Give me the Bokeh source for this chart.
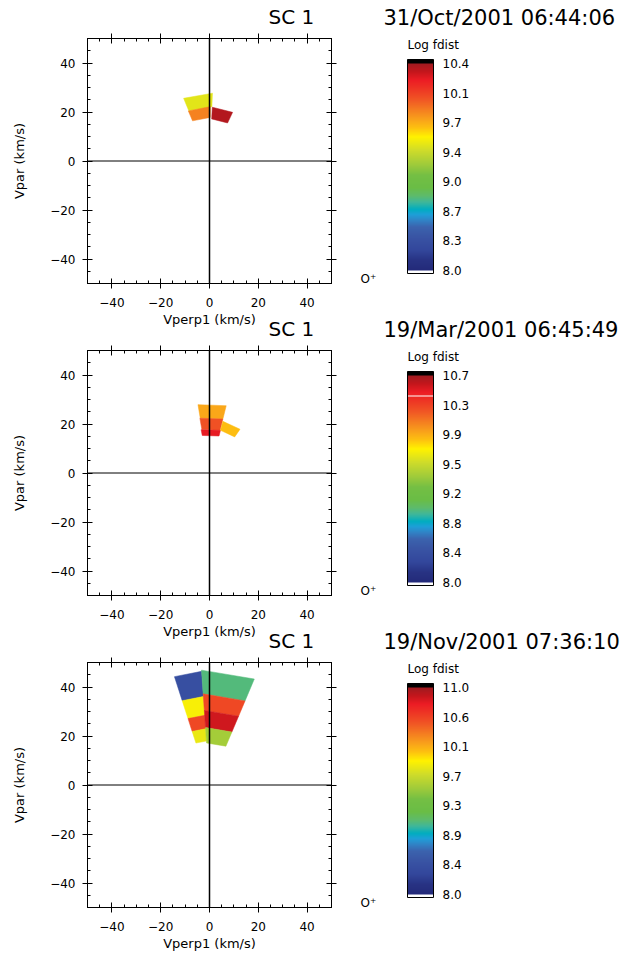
import numpy as np
from bokeh.plotting import figure
from bokeh.models import (LinearAxis, SingleIntervalTicker, Span, Label, ColorBar,
                          LinearColorMapper, FixedTicker, PrintfTickFormatter,
                          CustomJSTickFormatter, ColumnDataSource)
from bokeh.layouts import column, row
from bokeh.embed import file_html
from bokeh.resources import INLINE

# ---------------- data ----------------
spacecraft = "SC 1"
species = "O\u207a"
dates = ["31/Oct/2001 06:44:06", "19/Mar/2001 06:45:49", "19/Nov/2001 07:36:10"]
cbar_title = "Log fdist"
cbar_min = 8.0
cbar_max = [10.4, 10.7, 11.0]
# white marker line that appears inside the colour bar (panel index -> log f), else None
cbar_white_line = [None, 10.433, None]
x_label = "Vperp1 (km/s)"
y_label = "Vpar (km/s)"

# velocity-space bins: speed range (km/s), angle range from +Vpar (deg), log f
p1_v_lo = [22.2, 17.8, 17.2]
p1_v_hi = [27.7, 22.2, 22.0]
p1_ang_lo = [-22.5, -23.0, 3.0]
p1_ang_hi = [2.5, 1.0, 25.5]
p1_logf = [9.45, 9.85, 10.35]

p2_v_lo = [22.7, 18.0, 15.6, 18.0]
p2_v_hi = [28.3, 22.7, 18.0, 21.8]
p2_ang_lo = [-9.6, -10.0, -11.0, 14.5]
p2_ang_hi = [14.0, 14.0, 14.5, 35.0]
p2_logf = [9.95, 10.25, 10.5, 9.87]

p3_v_lo = [36.2, 28.5, 23.0, 18.0, 37.3, 30.5, 23.5, 17.2]
p3_v_hi = [46.5, 36.2, 28.5, 23.0, 47.0, 37.3, 30.5, 23.5]
p3_ang_lo = [-18.0, -18.0, -18.0, -18.0, -4.0, -4.0, -4.0, -4.0]
p3_ang_hi = [-4.0, -4.0, -4.0, -4.0, 23.0, 23.0, 23.0, 23.0]
p3_logf = [8.42, 9.9, 10.55, 9.85, 9.05, 10.55, 10.85, 9.56]

panels = [
    (p1_v_lo, p1_v_hi, p1_ang_lo, p1_ang_hi, p1_logf),
    (p2_v_lo, p2_v_hi, p2_ang_lo, p2_ang_hi, p2_logf),
    (p3_v_lo, p3_v_hi, p3_ang_lo, p3_ang_hi, p3_logf),
]

# ---------------- colour table (style) ----------------
ramp_stops = [
    (0.00, "#232a7a"), (0.05, "#283384"), (0.10, "#33479c"), (0.16, "#3954a4"),
    (0.21, "#3b63ae"), (0.245, "#2f86c8"), (0.27, "#1e9fd8"), (0.295, "#00adc0"),
    (0.33, "#3fb79a"), (0.36, "#5dbb6c"), (0.40, "#6abd45"), (0.46, "#74bf44"),
    (0.52, "#a5cd39"), (0.58, "#cfdc2a"), (0.645, "#fff200"), (0.69, "#fdc010"),
    (0.73, "#f9a11b"), (0.77, "#f58220"), (0.82, "#f15a24"), (0.87, "#ee3a24"),
    (0.92, "#ec1c24"), (0.96, "#c4161c"), (1.00, "#9e1b20"),
]
N_RAMP, N_LO, N_HI = 207, 3, 4


def hex2rgb(h):
    return [int(h[i:i + 2], 16) for i in (1, 3, 5)]


st = np.array([s[0] for s in ramp_stops])
rgb = np.array([hex2rgb(s[1]) for s in ramp_stops], dtype=float)
tt = (np.arange(N_RAMP) + 0.5) / N_RAMP
ramp = []
for t in tt:
    c = [int(round(np.interp(t, st, rgb[:, k]))) for k in range(3)]
    ramp.append("#%02x%02x%02x" % tuple(c))
base_palette = ["#ffffff"] * N_LO + ramp + ["#000000"] * N_HI

FONT = "DejaVu Sans"
HEAD_H = 33
H = 330 - HEAD_H
W_MAIN, W_CB = 355, 275
MB_L, MB_R, MB_T, MB_B = 87, 24, 5, 47

minus_fmt = CustomJSTickFormatter(code="return tick < 0 ? '\\u2212' + Math.abs(tick) : String(tick)")
blank_fmt = CustomJSTickFormatter(code="return ''")


def style_axis(ax, labels=True):
    ax.ticker = SingleIntervalTicker(interval=20, num_minor_ticks=4)
    ax.major_tick_in = 5
    ax.major_tick_out = 5
    ax.minor_tick_in = 3
    ax.minor_tick_out = 0
    ax.axis_line_color = "black"
    ax.major_tick_line_color = "black"
    ax.minor_tick_line_color = "black"
    ax.major_label_text_font = FONT
    ax.major_label_text_color = "black"
    ax.axis_label_text_font = FONT
    ax.axis_label_text_font_size = "13px"
    ax.axis_label_text_font_style = "normal"
    ax.axis_label_text_color = "black"
    if labels:
        ax.formatter = minus_fmt
        ax.major_label_text_font_size = "12px"
    else:
        ax.formatter = blank_fmt
        ax.major_label_text_font_size = "0px"
        ax.major_label_standoff = 0


def blank_fig(width, height, **kw):
    f = figure(width=width, height=height, x_range=(0, 1), y_range=(0, 1),
               x_axis_type=None, y_axis_type=None,
               output_backend="svg", toolbar_location=None, **kw)
    f.title = None
    f.grid.visible = False
    f.outline_line_color = None
    f.border_fill_color = None
    f.background_fill_color = None
    return f


def make_panel(i):
    v_lo, v_hi, a_lo, a_hi, logf = panels[i]
    vmax = cbar_max[i]
    step = (vmax - cbar_min) / N_RAMP
    palette = list(base_palette)
    if cbar_white_line[i] is not None:
        palette[N_LO + int((cbar_white_line[i] - cbar_min) / step)] = "#ffffff"
    mapper = LinearColorMapper(palette=palette, low=cbar_min - N_LO * step,
                               high=vmax + N_HI * step)

    xs, ys = [], []
    for r0, r1, t0, t1 in zip(v_lo, v_hi, a_lo, a_hi):
        th0, th1 = np.radians(t0), np.radians(t1)
        rr = [r0, r1, r1, r0]
        th = [th0, th0, th1, th1]
        xs.append([r * np.sin(a) for r, a in zip(rr, th)])
        ys.append([r * np.cos(a) for r, a in zip(rr, th)])
    src = ColumnDataSource(dict(xs=xs, ys=ys, logf=logf))

    # ---- header line: spacecraft + time ----
    h = blank_fig(W_MAIN + W_CB, HEAD_H, min_border_left=0, min_border_right=0,
                  min_border_top=0, min_border_bottom=0)
    h.add_layout(Label(x=268, y=17, x_units="screen", y_units="screen",
                       text=spacecraft, text_font=FONT, text_font_size="20px",
                       text_baseline="alphabetic", text_color="black"))
    h.add_layout(Label(x=383, y=16, x_units="screen", y_units="screen",
                       text=dates[i], text_font=FONT, text_font_size="21px",
                       text_baseline="alphabetic", text_color="black"))

    # ---- main velocity-space plot ----
    p = figure(width=W_MAIN, height=H, x_range=(-50, 50), y_range=(-50, 50),
               output_backend="svg", toolbar_location=None,
               min_border_left=MB_L, min_border_right=MB_R,
               min_border_top=MB_T, min_border_bottom=MB_B)
    p.title = None
    p.grid.visible = False
    p.outline_line_color = "black"
    p.outline_line_width = 1
    p.border_fill_color = None
    p.background_fill_color = "white"

    style_axis(p.xaxis[0])
    style_axis(p.yaxis[0])
    p.xaxis[0].axis_label = x_label
    p.yaxis[0].axis_label = y_label
    p.xaxis[0].major_label_standoff = 9
    p.xaxis[0].axis_label_standoff = 2
    p.yaxis[0].major_label_standoff = 7
    p.yaxis[0].axis_label_standoff = 20
    top = LinearAxis()
    right = LinearAxis()
    style_axis(top, labels=False)
    style_axis(right, labels=False)
    p.add_layout(top, "above")
    p.add_layout(right, "right")

    p.patches(xs="xs", ys="ys", source=src,
              fill_color={"field": "logf", "transform": mapper},
              line_color={"field": "logf", "transform": mapper}, line_width=0.5)

    p.add_layout(Span(location=0, dimension="height", line_color="black", line_width=1.5))
    p.add_layout(Span(location=0, dimension="width", line_color="black", line_width=1))

    # ---- colour bar panel ----
    q = blank_fig(W_CB, H, min_border_left=0, min_border_right=0,
                  min_border_top=MB_T, min_border_bottom=MB_B)
    ticks = [cbar_min + k * (vmax - cbar_min) / 7 for k in range(8)]
    cb = ColorBar(color_mapper=mapper, ticker=FixedTicker(ticks=ticks, minor_ticks=[]),
                  formatter=PrintfTickFormatter(format="%.1f"),
                  location=(52, 10), width=26, height=N_RAMP + N_LO + N_HI,
                  padding=0, major_label_text_font=FONT,
                  major_label_text_font_size="12px", major_label_text_color="black",
                  label_standoff=9,
                  major_tick_line_color=None, minor_tick_line_color=None,
                  bar_line_color="black", bar_line_width=1,
                  background_fill_color=None, border_line_color=None)
    q.add_layout(cb, "center")
    q.add_layout(Label(x=52, y=239, x_units="screen", y_units="screen",
                       text=cbar_title, text_font=FONT, text_font_size="12px",
                       text_baseline="alphabetic", text_color="black"))
    q.add_layout(Label(x=5, y=5, x_units="screen", y_units="screen",
                       text=species, text_font=FONT, text_font_size="12px",
                       text_baseline="alphabetic", text_color="black"))

    block = column(h, row(p, q, spacing=0), spacing=0)
    if i > 0:
        block.styles = {"margin-top": "-18px"}
    return block


blocks = [make_panel(i) for i in range(3)]
layout = column(*blocks, spacing=0)
open("out.html", "w").write(file_html(layout, INLINE))
